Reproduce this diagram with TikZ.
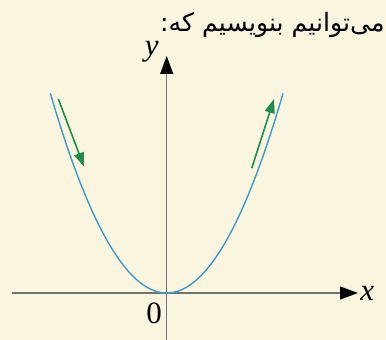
\documentclass[tikz,border=0pt]{standalone}
\usepackage{fontspec}
\setmainfont{Liberation Serif}
\newfontfamily\arabicfont[Script=Arabic]{DejaVu Sans}
\TeXXeTstate=1
\usetikzlibrary{arrows.meta}
\definecolor{PageCream}{HTML}{F9F5DE}
\definecolor{CurveBlue}{HTML}{3D9AD1}
\definecolor{ArrowGreen}{HTML}{1E8C4E}

\begin{document}
\begin{tikzpicture}[x=.5pt,y=-.5pt,
  axis/.style={draw=black!55,line width=.6pt,-{Triangle[length=9pt,width=6.5pt,color=black]}},
  flow/.style={ArrowGreen,line width=.8pt,-{Triangle[length=7pt,width=5pt]}},
  lbl/.style={font=\fontsize{15.5}{18}\selectfont,inner sep=0pt}]
\fill[PageCream] (0,0) rectangle (386,340);
\useasboundingbox (0,0) rectangle (386,340);
\coordinate (O) at (166.7,293);
\coordinate (xs) at (12,293);\coordinate (xe) at (358,293);
\coordinate (ys) at (166.7,340);\coordinate (ye) at (166.7,56);
\draw[axis] (xs)--(xe);
\draw[axis] (ys)--(ye);
\node[lbl,anchor=west] (xl) at (360,293) {\itshape x};
\node[lbl,anchor=south east] (yl) at (159,63) {\itshape y};
\node[lbl] (zero) at (154,313) {0};
\draw[CurveBlue,line width=.7pt,domain=-116.3:116.3,samples=90,smooth] plot ({166.7+\x},{293-0.01476*\x*\x});
% direction of motion along the curve
\coordinate (la) at (58.3,99);\coordinate (lb) at (84,166.7);
\coordinate (ra) at (251.7,168.3);\coordinate (rb) at (274,99);
\draw[flow] (la)--(lb);
\draw[flow] (ra)--(rb);
\node[anchor=base east,inner sep=0pt,font=\arabicfont\fontsize{12.6}{15}\selectfont] (say) at (385,32) {\beginR می^^^^200cتوانیم بنویسیم که:\endR};
\end{tikzpicture}
\end{document}
